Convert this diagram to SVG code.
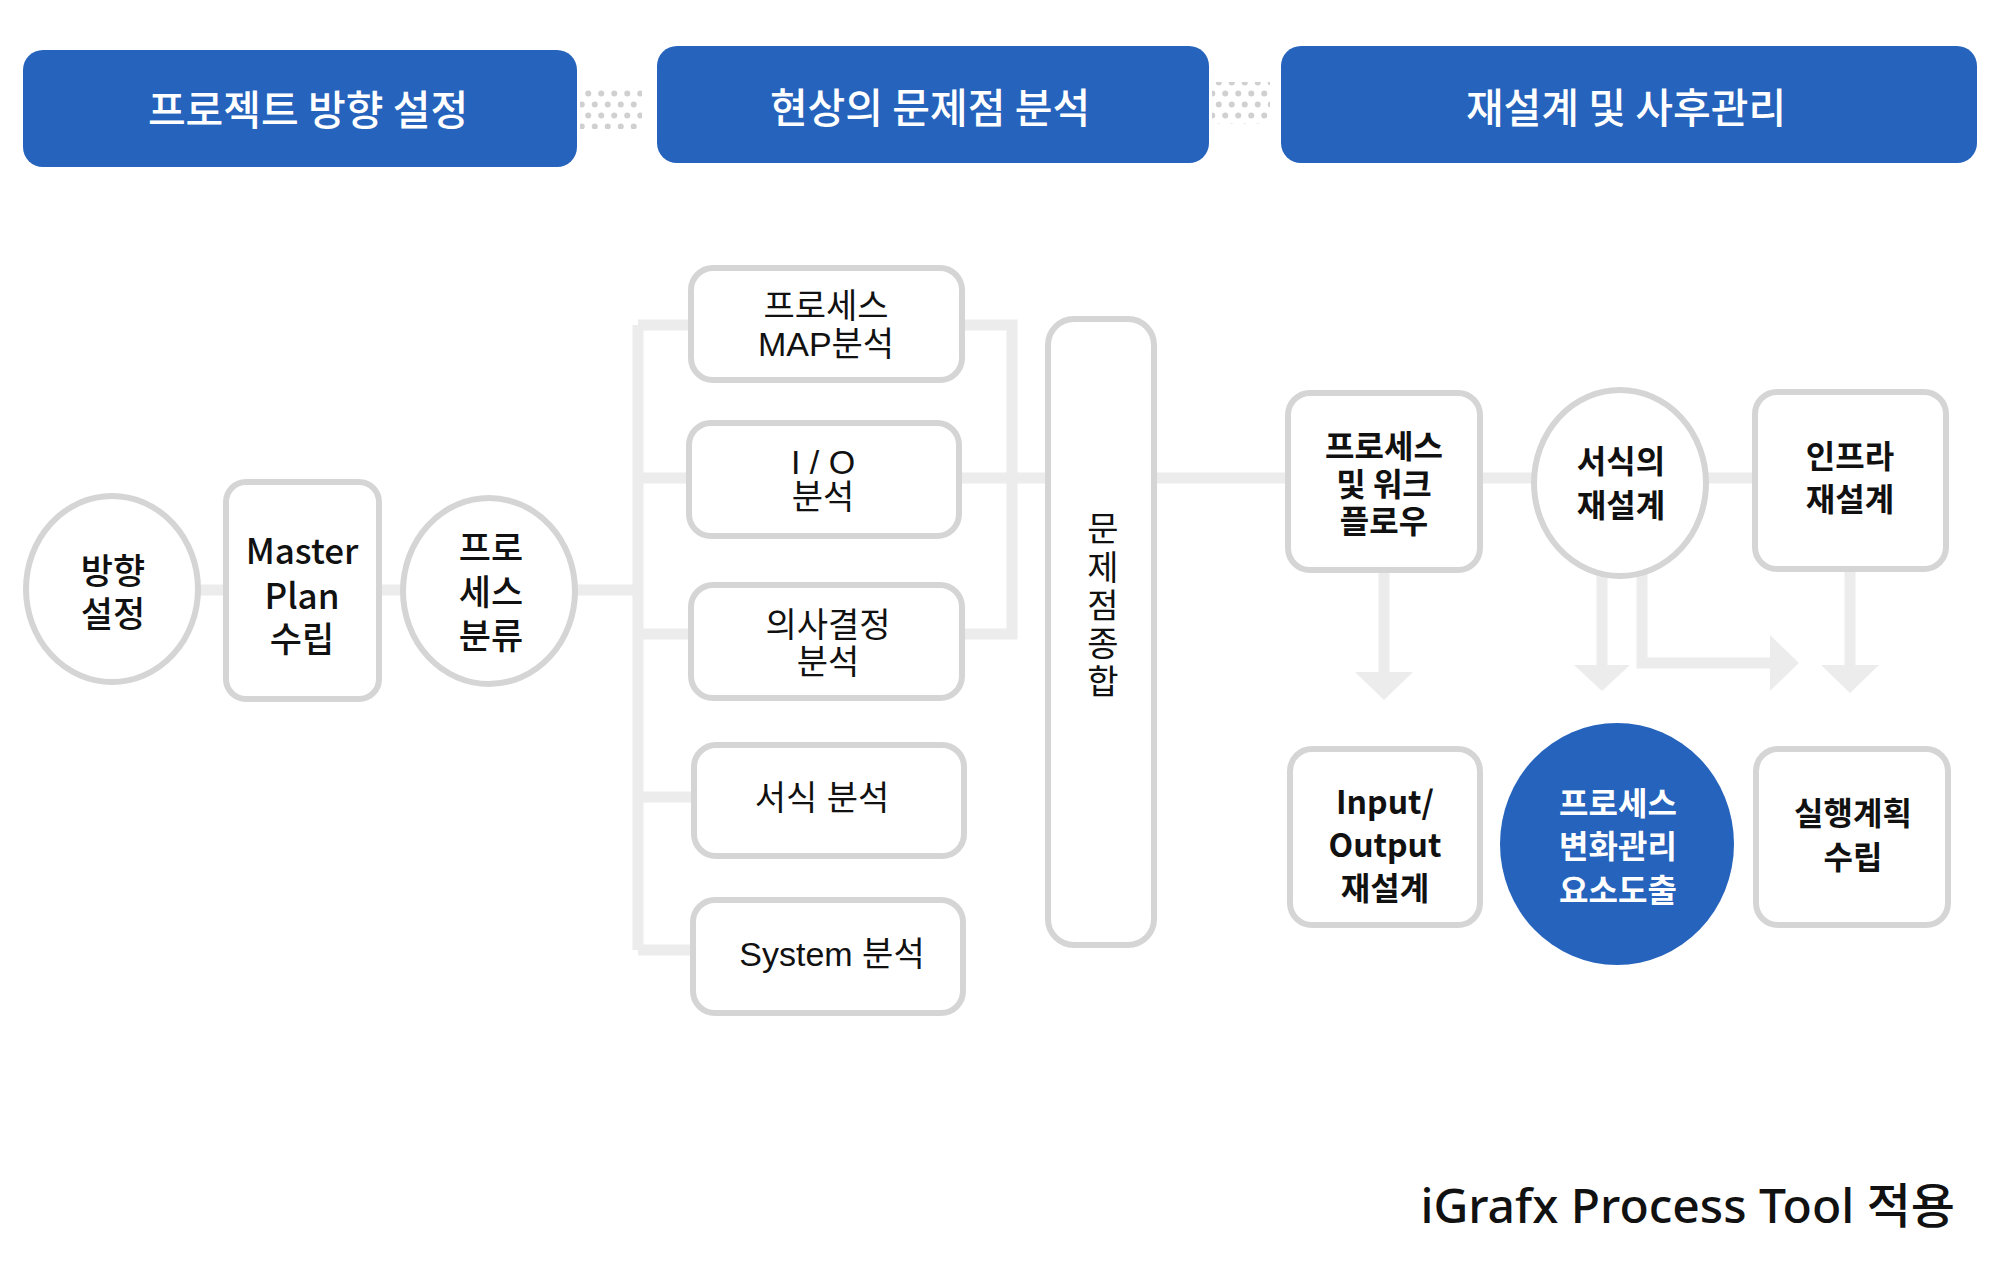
<svg xmlns="http://www.w3.org/2000/svg" width="2000" height="1271" viewBox="0 0 2000 1271">
<defs>
<style>
.hdr{fill:#2563bc}
.ht{fill:#fff;font-family:"Noto Sans CJK KR","Noto Sans",sans-serif;font-size:41px;font-weight:500;text-anchor:middle;dominant-baseline:central}
.node{fill:#fff;stroke:#d5d5d5;stroke-width:6}
.t{fill:#111;font-family:"Noto Sans CJK KR","Noto Sans",sans-serif;font-size:35px;font-weight:500;text-anchor:middle;dominant-baseline:central}
.tr{fill:#111;font-family:"Liberation Sans","Noto Sans CJK KR",sans-serif;font-size:34px;font-weight:400;text-anchor:middle;dominant-baseline:central}
.tb{fill:#111;font-family:"Noto Sans CJK KR","Noto Sans",sans-serif;font-size:32px;font-weight:700;text-anchor:middle;dominant-baseline:central}
.tw{fill:#fff}
.conn{fill:none;stroke:#ececec;stroke-width:11}
.head{fill:#ececec}
</style>
<pattern id="dots" patternUnits="userSpaceOnUse" width="13" height="22">
<circle cx="3.25" cy="5.5" r="3" fill="#d0d0d0"/>
<circle cx="9.75" cy="16.5" r="3" fill="#d0d0d0"/>
</pattern>
</defs>
<rect width="2000" height="1271" fill="#fff"/>

<g id="connectors">
<path class="conn" d="M112 590 H638"/>
<path class="conn" d="M638 325 V950"/>
<path class="conn" d="M638 325 H700 M638 478 H700 M638 634 H700 M638 797 H700 M638 950 H700"/>
<path class="conn" d="M955 325 H1012 V634 H955 M955 478 H1288"/>
<path class="conn" d="M1480 478 H1755"/>
<path class="conn" d="M1384 572 V674"/>
<path class="head" d="M1355 672 L1413 672 L1384 700 Z"/>
<path class="conn" d="M1602 575 V667"/>
<path class="head" d="M1574 665 L1630 665 L1602 691 Z"/>
<path class="conn" d="M1642 572 V663 H1772"/>
<path class="head" d="M1770 635 L1770 691 L1799 663 Z"/>
<path class="conn" d="M1850 571 V667"/>
<path class="head" d="M1821 665 L1879 665 L1850 693 Z"/>
</g>

<g id="header1"><rect class="hdr" x="23" y="50" width="554" height="117" rx="20"/><text class="ht" x="308" y="107">프로젝트 방향 설정</text></g>
<rect id="dots1" x="580" y="87" width="62" height="42" fill="url(#dots)"/>
<g id="header2"><rect class="hdr" x="657" y="46" width="552" height="117" rx="20"/><text class="ht" x="930" y="105">현상의 문제점 분석</text></g>
<rect id="dots2" x="1212" y="82" width="58" height="42" fill="url(#dots)"/>
<g id="header3"><rect class="hdr" x="1281" y="46" width="696" height="117" rx="20"/><text class="ht" x="1626" y="105">재설계 및 사후관리</text></g>

<g id="n-direction"><ellipse class="node" cx="112" cy="589" rx="86" ry="93"/><text class="t" x="113" y="568">방향</text><text class="t" x="113" y="611">설정</text></g>
<g id="n-master"><rect class="node" x="226" y="482" width="153" height="217" rx="20"/><text class="t" x="302" y="548">Master</text><text class="t" x="302" y="593">Plan</text><text class="t" x="302" y="636">수립</text></g>
<g id="n-classify"><ellipse class="node" cx="489" cy="591" rx="86" ry="93"/><text class="t" x="491" y="545">프로</text><text class="t" x="491" y="589">세스</text><text class="t" x="491" y="633">분류</text></g>

<g id="n-map"><rect class="node" x="691" y="268" width="271" height="112" rx="22"/><text class="tr" x="826" y="306">프로세스</text><text class="tr" x="826" y="344">MAP분석</text></g>
<g id="n-io"><rect class="node" x="689" y="423" width="270" height="113" rx="22"/><text class="tr" x="823" y="462">I / O</text><text class="tr" x="823" y="497">분석</text></g>
<g id="n-decision"><rect class="node" x="691" y="585" width="271" height="113" rx="22"/><text class="tr" x="828" y="625">의사결정</text><text class="tr" x="828" y="662">분석</text></g>
<g id="n-form"><rect class="node" x="694" y="745" width="270" height="111" rx="22"/><text class="tr" x="822" y="798">서식 분석</text></g>
<g id="n-system"><rect class="node" x="693" y="900" width="270" height="113" rx="22"/><text class="tr" x="832" y="954">System 분석</text></g>

<g id="n-summary"><rect class="node" x="1048" y="319" width="106" height="626" rx="26"/>
<text class="tr" x="1103" y="529">문</text><text class="tr" x="1103" y="568">제</text><text class="tr" x="1103" y="606">점</text><text class="tr" x="1103" y="644">종</text><text class="tr" x="1103" y="682">합</text></g>

<g id="n-workflow"><rect class="node" x="1288" y="393" width="192" height="177" rx="22"/><text class="tb" x="1384" y="444">프로세스</text><text class="tb" x="1384" y="482">및 워크</text><text class="tb" x="1384" y="519">플로우</text></g>
<g id="n-formredesign"><ellipse class="node" cx="1620" cy="483" rx="86" ry="93"/><text class="tb" x="1621" y="459">서식의</text><text class="tb" x="1621" y="503">재설계</text></g>
<g id="n-infra"><rect class="node" x="1755" y="392" width="191" height="177" rx="22"/><text class="tb" x="1850" y="454">인프라</text><text class="tb" x="1850" y="497">재설계</text></g>

<g id="n-ioredesign"><rect class="node" x="1290" y="749" width="190" height="176" rx="22"/><text class="tb" x="1385" y="800">Input/</text><text class="tb" x="1385" y="843">Output</text><text class="tb" x="1385" y="886">재설계</text></g>
<g id="n-change"><ellipse cx="1617" cy="844" rx="117" ry="121" fill="#2563bc"/><text class="tb tw" x="1618" y="801">프로세스</text><text class="tb tw" x="1618" y="844">변화관리</text><text class="tb tw" x="1618" y="888">요소도출</text></g>
<g id="n-plan"><rect class="node" x="1756" y="749" width="192" height="176" rx="22"/><text class="tb" x="1853" y="811">실행계획</text><text class="tb" x="1853" y="855">수립</text></g>

<text id="footer" x="1955" y="1204" font-family="'Noto Sans','Noto Sans CJK KR',sans-serif" font-size="48" font-weight="500" fill="#111" text-anchor="end" dominant-baseline="central">iGrafx Process Tool 적용</text>
</svg>
